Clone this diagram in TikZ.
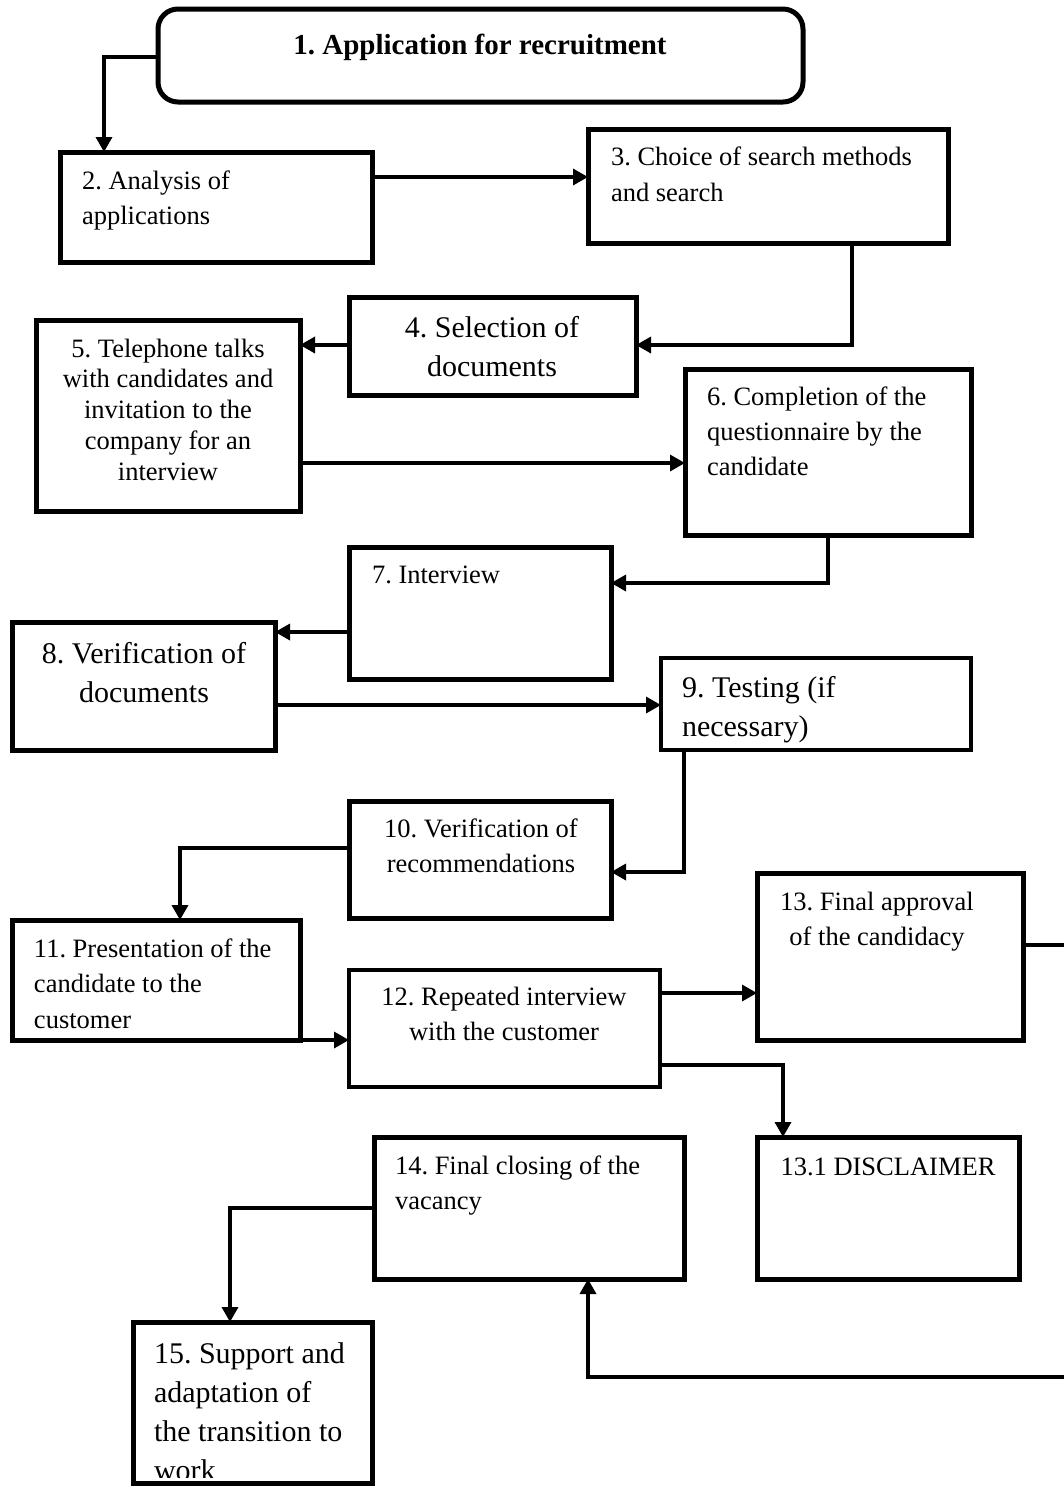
\documentclass[tikz,border=0pt]{standalone}
\usepackage{fontspec}
\setmainfont{Liberation Serif}
\usetikzlibrary{arrows.meta}
\frenchspacing

% text blocks whose baseline is the baseline of their first line
\newcommand\leftlines[1]{\begin{tabular}[t]{@{}l@{}}#1\end{tabular}}
\newcommand\midlines[1]{\begin{tabular}[t]{@{}c@{}}#1\end{tabular}}

\tikzset{
  box/.style={draw=black, line width=5pt, fill=white, rectangle, inner sep=0pt,
              outer sep=0pt, anchor=north west},
  thinbox/.style={box, line width=3.8pt},
  titlebox/.style={box, rounded corners=20pt},
  txt/.style={inner sep=0pt, outer sep=0pt, font=\fontsize{26.5}{35}\selectfont},
  bigtxt/.style={txt, font=\fontsize{30}{39}\selectfont},
  conn/.style={draw=black, line width=3.4pt,
               -{Triangle[length=15pt,width=16pt]}},
}

\begin{document}
\begin{tikzpicture}[x=1pt, y=-1pt]
\useasboundingbox (0,0) rectangle (1064,1486);
\fill[white] (0,0) rectangle (1064,1486);

% ---- boxes ----
\node[titlebox, minimum width=645pt, minimum height=93pt]  (b1)  at (158,9)    {};
\node[box,      minimum width=312pt, minimum height=110pt] (b2)  at (60,152)   {};
\node[box,      minimum width=360pt, minimum height=114pt] (b3)  at (588,129)  {};
\node[box,      minimum width=287pt, minimum height=98pt]  (b4)  at (349,297)  {};
\node[box,      minimum width=264pt, minimum height=191pt] (b5)  at (36,320)   {};
\node[box,      minimum width=286pt, minimum height=166pt] (b6)  at (685,369)  {};
\node[box,      minimum width=262pt, minimum height=132pt] (b7)  at (349,547)  {};
\node[box,      minimum width=263pt, minimum height=128pt] (b8)  at (12,622)   {};
\node[thinbox,  minimum width=310pt, minimum height=92pt]  (b9)  at (661,658)  {};
\node[box,      minimum width=262pt, minimum height=117pt] (b10) at (349,801)  {};
\node[box,      minimum width=288pt, minimum height=120pt] (b11) at (12,920)   {};
\node[thinbox,  minimum width=311pt, minimum height=117pt] (b12) at (349,970)  {};
\node[box,      minimum width=266pt, minimum height=167pt] (b13) at (757,873)  {};
\node[box,      minimum width=262pt, minimum height=142pt] (b131) at (757,1137) {};
\node[box,      minimum width=310pt, minimum height=142pt] (b14) at (374,1137) {};
\node[box,      minimum width=239pt, minimum height=161pt] (b15) at (133,1322) {};

% ---- texts ----
\node[inner sep=0pt, anchor=base, font=\fontsize{29}{35}\selectfont\bfseries]
  (t1) at (480,54) {1. Application for recruitment};
\node[txt, anchor=base west] (t2) at (82,189) {\leftlines{2. Analysis of\\applications}};
\node[txt, anchor=base west, font=\fontsize{26.5}{36}\selectfont]
  (t3) at (611,165) {\leftlines{3. Choice of search methods\\and search}};
\node[bigtxt, anchor=base] (t4) at (492,337) {\midlines{4. Selection of\\documents}};
\node[txt, anchor=base, font=\fontsize{26.5}{30.75}\selectfont]
  (t5) at (168,357) {\midlines{5. Telephone talks\\with candidates and\\invitation to the\\company for an\\interview}};
\node[txt, anchor=base west] (t6) at (707,405) {\leftlines{6. Completion of the\\questionnaire by the\\candidate}};
\node[txt, anchor=base west] (t7) at (372,583) {7. Interview};
\node[bigtxt, anchor=base] (t8) at (144,663) {\midlines{8. Verification of\\documents}};
\node[bigtxt, anchor=base west] (t9) at (682,697) {\leftlines{9. Testing (if\\necessary)}};
\node[txt, anchor=base] (t10) at (481,837) {\midlines{10. Verification of\\recommendations}};
\node[txt, anchor=base west, font=\fontsize{26.5}{35.5}\selectfont]
  (t11) at (34,957) {\leftlines{11. Presentation of the\\candidate to the\\customer}};
\node[txt, anchor=base] (t12) at (504,1005) {\midlines{12. Repeated interview\\with the customer}};
\node[txt, anchor=base] (t13) at (877,910) {\midlines{13. Final approval\\of the candidacy}};
\node[txt, anchor=base] (t131) at (888,1175) {13.1 DISCLAIMER};
\node[txt, anchor=base west] (t14) at (395,1174) {\leftlines{14. Final closing of the\\vacancy}};
\begin{scope}
  % the last line runs past the frame and is cut off
  \clip (133,1477) rectangle (b15.north east);
  \node[bigtxt, anchor=base west] (t15) at (154,1363)
    {\leftlines{15. Support and\\adaptation of\\the transition to\\work}};
\end{scope}

% ---- connectors ----
\coordinate (loopR) at (1075,945);
\coordinate (loopB) at (588,1377);

\draw[conn] (b1.west |- 0,57)    -| (b2.north -| 104,0);
\draw[conn] (b2.east |- 0,177)   -- (b3.west |- 0,177);
\draw[conn] (b3.south -| 852,0)  |- (b4.east |- 0,345);
\draw[conn] (b4.west |- 0,345)   -- (b5.east |- 0,345);
\draw[conn] (b5.east |- 0,463)   -- (b6.west |- 0,463);
\draw[conn] (b6.south -| 828,0)  |- (b7.east |- 0,583);
\draw[conn] (b7.west |- 0,632)   -- (b8.east |- 0,632);
\draw[conn] (b8.east |- 0,705)   -- (b9.west |- 0,705);
\draw[conn] (b9.south -| 684,0)  |- (b10.east |- 0,872);
\draw[conn] (b10.west |- 0,848)  -| (b11.north -| 180,0);
\draw[conn] (b11.east |- 0,1040) -- (b12.west |- 0,1040);
\draw[conn] (b12.east |- 0,993)  -- (b13.west |- 0,993);
\draw[conn] (b12.east |- 0,1065) -| (b131.north -| 783,0);
\draw[conn] (b13.east |- loopR)  -- (loopR) |- (loopB) -- (b14.south -| loopB);
\draw[conn] (b14.west |- 0,1208) -| (b15.north -| 230,0);

\end{tikzpicture}
\end{document}
